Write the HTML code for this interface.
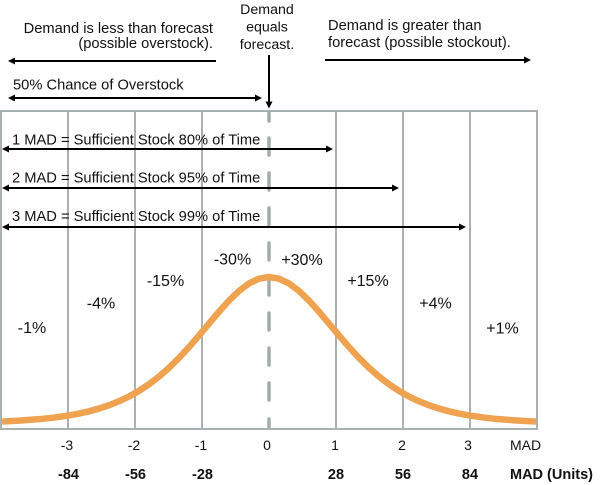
<!DOCTYPE html>
<html>
<head>
<meta charset="utf-8">
<style>
  html, body { margin: 0; padding: 0; background: #ffffff; }
  svg { display: block; }
  text { font-family: "Liberation Sans", Arial, sans-serif; fill: #111; }
</style>
</head>
<body>
<svg width="603" height="485" viewBox="0 0 603 485" xmlns="http://www.w3.org/2000/svg">
  <!-- grid box -->
  <g stroke="#A9B1B3" stroke-width="2" fill="none">
    <rect x="1" y="111" width="536" height="318"/>
    <line x1="68" y1="111" x2="68" y2="429"/>
    <line x1="135" y1="111" x2="135" y2="429"/>
    <line x1="202" y1="111" x2="202" y2="429"/>
    <line x1="336" y1="111" x2="336" y2="429"/>
    <line x1="403" y1="111" x2="403" y2="429"/>
    <line x1="470" y1="111" x2="470" y2="429"/>
  </g>

  <!-- dashed center line -->
  <g stroke="#A3ABAE" stroke-width="3.5" stroke-linecap="round">
    <line x1="269" y1="113" x2="269" y2="121"/>
    <line x1="269" y1="138" x2="269" y2="155"/>
    <line x1="269" y1="173" x2="269" y2="190"/>
    <line x1="269" y1="208" x2="269" y2="225"/>
    <line x1="269" y1="243" x2="269" y2="260"/>
    <line x1="269" y1="278" x2="269" y2="295"/>
    <line x1="269" y1="313" x2="269" y2="330"/>
    <line x1="269" y1="348" x2="269" y2="365"/>
    <line x1="269" y1="383" x2="269" y2="400"/>
    <line x1="269" y1="419" x2="269" y2="427"/>
  </g>

  <!-- bell curve -->
  <polyline fill="none" stroke="#EFA250" stroke-width="6.5" stroke-linejoin="round" stroke-linecap="butt"
    points="2,421.56 19,420.66 39,419.17 54,417.58 69,415.42 79,413.57 89,411.31 99,408.57 109,405.26 119,401.27 129,396.52 139,390.87 149,384.25 159,376.56 169,367.76 179,357.9 189,347.08 199,335.51 209,323.56 219,311.72 229,300.62 239,290.96 249,283.44 259,278.65 269,277 279,278.65 289,283.44 299,290.96 309,300.62 319,311.72 329,323.56 339,335.51 349,347.08 359,357.9 369,367.76 379,376.56 389,384.25 399,390.87 409,396.52 419,401.27 429,405.26 439,408.57 449,411.31 459,413.57 469,415.42 484,417.58 499,419.17 519,420.66 536,421.56"/>

  <!-- arrows -->
  <g stroke="#000" stroke-width="2" fill="none">
    <line x1="14" y1="61" x2="216" y2="61"/>
    <line x1="325" y1="60" x2="525" y2="60"/>
    <line x1="14" y1="98" x2="256" y2="98"/>
    <line x1="269" y1="55" x2="269" y2="102"/>
    <line x1="8" y1="149" x2="327" y2="149"/>
    <line x1="8" y1="188" x2="393" y2="188"/>
    <line x1="8" y1="227" x2="460" y2="227"/>
  </g>
  <g fill="#000">
    <polygon points="8,61 15,57.5 15,64.5"/>
    <polygon points="531,60 524,56.5 524,63.5"/>
    <polygon points="8,98 15,94.5 15,101.5"/>
    <polygon points="262,98 255,94.5 255,101.5"/>
    <polygon points="269,108.5 265.5,101.5 272.5,101.5"/>
    <polygon points="2,149 9,145.5 9,152.5"/>
    <polygon points="333,149 326,145.5 326,152.5"/>
    <polygon points="2,188 9,184.5 9,191.5"/>
    <polygon points="399,188 392,184.5 392,191.5"/>
    <polygon points="2,227 9,223.5 9,230.5"/>
    <polygon points="466,227 459,223.5 459,230.5"/>
  </g>

  <!-- top texts -->
  <g font-size="14.7">
    <text x="213" y="33" text-anchor="end">Demand is less than forecast</text>
    <text x="213" y="48" text-anchor="end">(possible overstock).</text>
    <text x="328" y="30">Demand is greater than</text>
    <text x="328" y="47">forecast (possible stockout).</text>
    <text x="13" y="89.5">50% Chance of Overstock</text>
    <text x="12" y="144.5">1 MAD = Sufficient Stock 80% of Time</text>
    <text x="12" y="182.5">2 MAD = Sufficient Stock 95% of Time</text>
    <text x="12" y="221">3 MAD = Sufficient Stock 99% of Time</text>
  </g>
  <g font-size="14.2" text-anchor="middle">
    <text x="267" y="14">Demand</text>
    <text x="267" y="31.5">equals</text>
    <text x="267" y="49">forecast.</text>
  </g>

  <!-- percent labels -->
  <g font-size="16" text-anchor="middle">
    <text x="32" y="333">-1%</text>
    <text x="101" y="308.5">-4%</text>
    <text x="165.5" y="286">-15%</text>
    <text x="232.5" y="264.5">-30%</text>
    <text x="302" y="265">+30%</text>
    <text x="368" y="286">+15%</text>
    <text x="435.5" y="308.5">+4%</text>
    <text x="502.5" y="333.5">+1%</text>
  </g>

  <!-- tick labels -->
  <g font-size="14" text-anchor="middle">
    <text x="67" y="450">-3</text>
    <text x="134" y="450">-2</text>
    <text x="201" y="450">-1</text>
    <text x="267" y="450">0</text>
    <text x="335" y="450">1</text>
    <text x="402" y="450">2</text>
    <text x="468" y="450">3</text>
  </g>
  <text x="510" y="450" font-size="14">MAD</text>
  <g font-size="14.5" font-weight="bold" text-anchor="middle">
    <text x="68.5" y="479">-84</text>
    <text x="135.5" y="479">-56</text>
    <text x="202.5" y="479">-28</text>
    <text x="336" y="479">28</text>
    <text x="403" y="479">56</text>
    <text x="470" y="479">84</text>
  </g>
  <text x="510" y="479" font-size="14.5" font-weight="bold">MAD (Units)</text>
</svg>
</body>
</html>
